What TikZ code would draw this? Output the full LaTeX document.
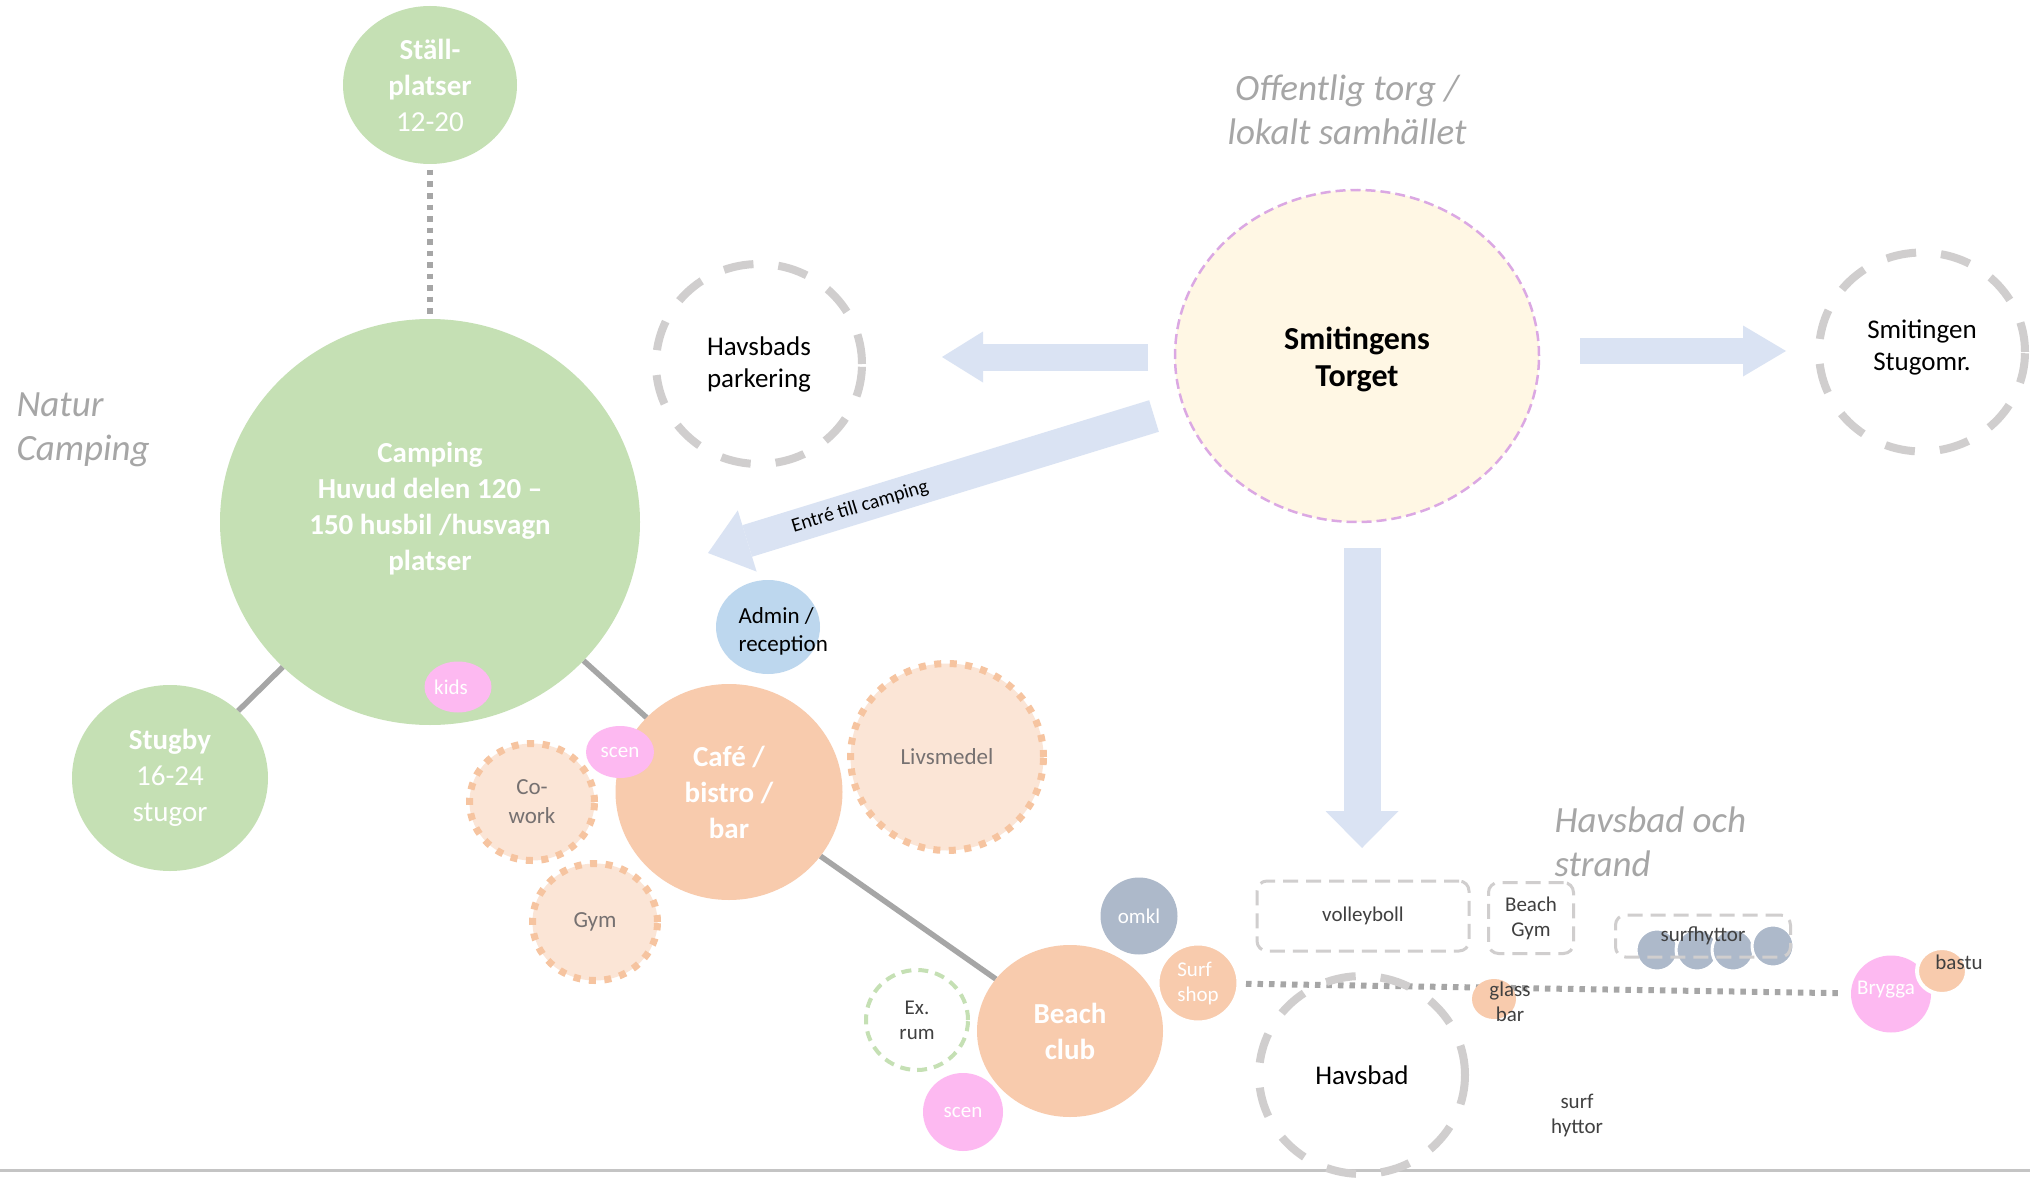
\documentclass[tikz,border=0pt]{standalone}
\usepackage{fontspec}
\setmainfont{Carlito}
\usetikzlibrary{shapes.geometric,arrows.meta,backgrounds}
\newcommand\myfs[2]{\fontsize{#1}{#2}\selectfont}
\definecolor{cgreen}{HTML}{C5E0B4}
\definecolor{corange}{HTML}{F8CBAD}
\definecolor{clight}{HTML}{FBE5D6}
\definecolor{cdot}{HTML}{F6C4A0}
\definecolor{cpink}{HTML}{FDB9F1}
\definecolor{cblue}{HTML}{BDD7EE}
\definecolor{cslate}{HTML}{ADB9CA}
\definecolor{carrow}{HTML}{DAE3F3}
\definecolor{ccream}{HTML}{FFF7E4}
\definecolor{cviolet}{HTML}{DBA8E3}
\definecolor{cdash}{HTML}{D0CECE}
\definecolor{cline}{HTML}{A6A6A6}
\definecolor{clabel}{HTML}{A6A6A6}
\definecolor{cdark}{HTML}{404040}
\definecolor{cmid}{HTML}{767171}
\definecolor{cbottom}{HTML}{C4C4C4}
\begin{document}
\begin{tikzpicture}[x=1pt,y=-1pt,
  blob/.style={ellipse,inner sep=0pt,outer sep=0pt,align=center},
  boldw/.style={font=\myfs{29}{36}\bfseries,text=white},
  smallw/.style={font=\myfs{21}{25},text=white},
  smalld/.style={font=\myfs{21}{25},text=cdark},
  midgray/.style={font=\myfs{23}{29},text=cmid},
  plain/.style={font=\myfs{27}{32},text=black},
  italab/.style={font=\myfs{37}{44}\itshape,text=clabel},
  dotbord/.style={blob,fill=clight,draw=cdot,line width=7pt,dash pattern=on 7pt off 8.5pt},
  graycirc/.style={blob,draw=cdash,line width=8pt,dash pattern=on 30pt off 25pt},
  rbox/.style={rectangle,rounded corners=10pt,draw=cdash,line width=3pt,dash pattern=on 15pt off 8pt,inner sep=0pt,align=center,font=\myfs{21}{25},text=cdark},
  gline/.style={draw=cline,line width=5.5pt},
  dotline/.style={draw=cline,line width=6pt,dash pattern=on 5.5pt off 6pt},
  barrow/.style={draw=carrow,line cap=butt}
]
\useasboundingbox (0,0) rectangle (2030,1180);

% bottom divider
\coordinate (bl) at (0,1170);
\coordinate (br) at (2030,1170);
\draw[draw=cbottom,line width=3pt] (bl) -- (br);

% ---- camping cluster
\node[blob,fill=cgreen,minimum width=420pt,minimum height=406pt] (camp) at (430,522) {};
\node[boldw,align=center] (camptxt) at (430,509) {Camping\\Huvud delen 120 –\\150 husbil /husvagn\\platser};
\node[blob,boldw,fill=cgreen,minimum width=174pt,minimum height=158pt] (st) at (430,85) {Ställ-\\platser\\{\mdseries 12-20}};
\node[blob,boldw,fill=cgreen,minimum width=196pt,minimum height=186pt] (stug) at (170,778) {Stugby\\{\mdseries 16-24}\\{\mdseries stugor}};
\node[blob,fill=cpink,minimum width=67pt,minimum height=51pt] (kids) at (458,687) {};
\node[smallw] (kidstxt) at (451,687) {kids};

% ---- cafe cluster
\node[blob,boldw,fill=corange,minimum width=227pt,minimum height=216pt] (cafe) at (729,792) {Café /\\bistro /\\bar};
\node[dotbord,midgray,minimum width=125pt,minimum height=117pt] (cow) at (532,802) {Co-\\work};
\node[dotbord,midgray,minimum width=125pt,minimum height=117pt] (gym) at (595,922) {Gym};
\node[dotbord,midgray,minimum width=193pt,minimum height=187pt] (liv) at (947,757) {Livsmedel};
\node[blob,smallw,fill=cpink,minimum width=68pt,minimum height=52pt] (scen1) at (620,752) {scen};
\node[blob,fill=cblue,minimum width=104pt,minimum height=94pt] (adm) at (768,627) {};
\node[font=\myfs{23}{28},text=black,align=left,anchor=west] (admtxt) at (735,631) {Admin /\\reception};

% ---- beach club cluster
\node[blob,boldw,fill=corange,minimum width=186pt,minimum height=172pt] (beach) at (1070,1031) {Beach\\club};
\node[blob,smallw,fill=cslate,minimum width=77pt,minimum height=77pt] (omkl) at (1139,916) {omkl};
\node[blob,smallw,fill=corange,draw=white,line width=3pt,minimum width=80pt,minimum height=78pt,align=left] (surf) at (1198,983) {Surf\\shop};
\node[blob,smalld,draw=cgreen,line width=4pt,dash pattern=on 10pt off 7pt,minimum width=102pt,minimum height=100pt] (exr) at (917,1020) {Ex.\\rum};
\node[blob,smallw,fill=cpink,minimum width=80pt,minimum height=78pt] (scen2) at (963,1112) {scen};

% ---- central & outer areas
\node[blob,fill=ccream,draw=cviolet,line width=2.5pt,dash pattern=on 10pt off 5pt,minimum width=364pt,minimum height=332pt] (torg) at (1357,356) {};
\node[font=\myfs{32}{37}\bfseries,align=center] (torgtxt) at (1357,359) {Smitingens\\Torget};
\node[graycirc,plain,minimum width=206pt,minimum height=200pt] (park) at (759,364) {Havsbads\\parkering};
\node[graycirc,minimum width=206pt,minimum height=199pt] (stugomr) at (1922,352) {};
\node[plain,align=center] (stugomrtxt) at (1922,347) {Smitingen\\Stugomr.};
\node[graycirc,plain,minimum width=206pt,minimum height=198pt] (hb) at (1362,1075) {Havsbad};

% ---- beach strip
\node[blob,fill=cslate,draw=white,line width=3pt,minimum size=42pt] (sh1) at (1657,950) {};
\node[blob,fill=cslate,draw=white,line width=3pt,minimum size=42pt] (sh2) at (1697,950) {};
\node[blob,fill=cslate,draw=white,line width=3pt,minimum size=42pt] (sh3) at (1733,950) {};
\node[blob,fill=cslate,draw=white,line width=3pt,minimum size=42pt] (sh4) at (1773,946) {};
\node[rbox,minimum width=212pt,minimum height=70pt] (vb) at (1363,916) {volleyboll};
\node[rbox,minimum width=85pt,minimum height=71pt] (bgym) at (1531,918) {Beach\\Gym};
\node[rbox,minimum width=175pt,minimum height=42pt] (shbox) at (1703,936) {surfhyttor};
\node[blob,fill=cpink,minimum width=80pt,minimum height=77pt] (bryg) at (1891,994) {};
\node[smallw] (brygtxt) at (1886,990) {Brygga};
\node[blob,fill=corange,draw=white,line width=4pt,minimum width=50pt,minimum height=46pt] (bastu) at (1942,971) {};
\node[smalld] (bastutxt) at (1959,962) {bastu};
\node[blob,fill=corange,minimum width=44pt,minimum height=40pt] (glass) at (1494,999) {};
\node[smalld,align=center] (glasstxt) at (1510,1002) {glass\\bar};
\node[smalld,align=center] (shtxt) at (1577,1115) {surf\\hyttor};

% ---- italic area labels
\node[italab,align=left,anchor=west] (natur) at (13,430) {Natur\\Camping};
\node[italab,align=center] (offl) at (1347,110) {Offentlig torg /\\lokalt samhället};
\node[italab,align=left,anchor=west] (hbos) at (1551,842) {Havsbad och\\strand};

% ---- block arrows
\coordinate (a1s) at (1148,357); \coordinate (a1e) at (942,357);
\coordinate (a2s) at (1580,351); \coordinate (a2e) at (1786,351);
\coordinate (a3s) at (1362,548); \coordinate (a3e) at (1362,848);
\coordinate (a4s) at (1154,416); \coordinate (a4e) at (708,553);
\draw[barrow,line width=27pt,-{Triangle[width=51pt,length=41pt,line width=0pt]}] (a1s) -- (a1e);
\draw[barrow,line width=26pt,-{Triangle[width=51pt,length=43pt,line width=0pt]}] (a2s) -- (a2e);
\draw[barrow,line width=37pt,-{Triangle[width=73pt,length=37pt,line width=0pt]}] (a3s) -- (a3e);
\draw[barrow,line width=33pt,-{Triangle[width=64pt,length=41pt,line width=0pt]}] (a4s) -- (a4e);
\node[font=\myfs{20}{24},text=black,rotate=17] (entre) at (860,507) {Entré till camping};

% ---- connectors (behind the shapes) and white page
\begin{scope}[on background layer]
\fill[white] (0,0) rectangle (2030,1180);
\draw[gline] (camp) -- (stug);
\draw[gline] (camp) -- (cafe);
\draw[gline] (cafe) -- (beach);
\draw[dotline,shorten <=6pt] (st) -- (camp);
\draw[dotline,shorten <=8pt,shorten >=13pt] (surf) -- (bryg);
\end{scope}
\end{tikzpicture}
\end{document}
